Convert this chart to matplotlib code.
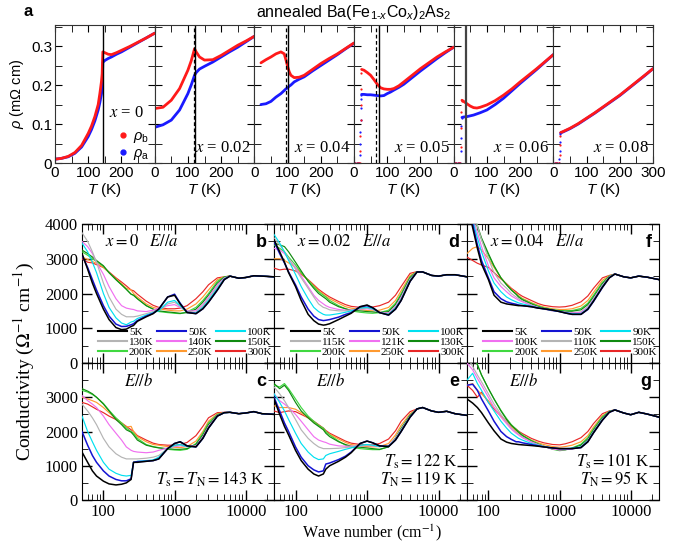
import numpy as np
import matplotlib as mpl
import matplotlib.pyplot as plt
from matplotlib.lines import Line2D
from matplotlib.font_manager import FontProperties
from matplotlib.ticker import MultipleLocator, LogLocator, NullFormatter

mpl.rcParams['font.family'] = 'Liberation Serif'
mpl.rcParams['mathtext.fontset'] = 'custom'
mpl.rcParams['mathtext.rm'] = 'Liberation Sans'
mpl.rcParams['mathtext.it'] = 'Liberation Sans:italic'
mpl.rcParams['mathtext.bf'] = 'Liberation Sans:bold'
SANS = 'Liberation Sans'

# ---------------- resistivity (top row) ----------------
dopings = ['0', '0.02', '0.04', '0.05', '0.06', '0.08']

T_00 = [2, 20, 40, 60, 80, 100, 110, 120, 130, 135, 140, 142, 143, 144, 150, 160, 170, 185, 200, 225, 250, 275, 300]
rb_00 = [0.010, 0.012, 0.017, 0.027, 0.045, 0.076, 0.095, 0.119, 0.150, 0.178, 0.210, 0.229, 0.260, 0.285,
         0.283, 0.279, 0.278, 0.283, 0.289, 0.299, 0.310, 0.321, 0.333]
ra_00 = [0.010, 0.012, 0.016, 0.025, 0.041, 0.068, 0.086, 0.108, 0.136, 0.155, 0.178, 0.200, 0.230, 0.258,
         0.263, 0.268, 0.272, 0.279, 0.285, 0.297, 0.309, 0.321, 0.333]

T_02 = [2, 25, 50, 75, 100, 110, 120, 125, 135, 150, 175, 200, 225, 250, 275, 300]
rb_02 = [0.140, 0.143, 0.161, 0.191, 0.238, 0.262, 0.293, 0.285, 0.272, 0.264, 0.265, 0.276, 0.289, 0.302, 0.313, 0.325]
ra_02 = [0.092, 0.098, 0.110, 0.136, 0.178, 0.200, 0.225, 0.232, 0.241, 0.248, 0.259, 0.272, 0.285, 0.297, 0.311, 0.325]

T_04 = [20, 35, 50, 65, 80, 90, 95, 100, 105, 110, 120, 135, 150, 175, 200, 225, 250, 275, 300]
rb_04 = [0.257, 0.265, 0.272, 0.280, 0.285, 0.280, 0.265, 0.248, 0.234, 0.225, 0.219, 0.220, 0.225, 0.240,
         0.255, 0.268, 0.280, 0.294, 0.308]
ra_04 = [0.150, 0.152, 0.158, 0.169, 0.178, 0.186, 0.190, 0.193, 0.197, 0.200, 0.208, 0.215, 0.221, 0.236,
         0.250, 0.264, 0.278, 0.293, 0.307]

T_05 = [23, 30, 40, 50, 60, 70, 80, 90, 100, 110, 120, 135, 150, 175, 200, 225, 250, 275, 300]
rb_05 = [0.240, 0.238, 0.232, 0.225, 0.214, 0.202, 0.193, 0.190, 0.189, 0.189, 0.191, 0.198, 0.208, 0.225,
         0.242, 0.257, 0.272, 0.285, 0.297]
ra_05 = [0.176, 0.176, 0.175, 0.175, 0.174, 0.173, 0.172, 0.173, 0.178, 0.182, 0.187, 0.194, 0.202, 0.219,
         0.236, 0.252, 0.268, 0.283, 0.297]

T_06 = [25, 30, 40, 50, 60, 70, 80, 100, 125, 150, 175, 200, 225, 250, 275, 300]
rb_06 = [0.161, 0.158, 0.152, 0.146, 0.142, 0.141, 0.143, 0.149, 0.160, 0.174, 0.190, 0.208, 0.225, 0.242, 0.260, 0.278]
ra_06 = [0.117, 0.118, 0.119, 0.121, 0.123, 0.126, 0.129, 0.136, 0.150, 0.166, 0.185, 0.204, 0.222, 0.240, 0.259, 0.278]

T_08 = [22, 30, 50, 75, 100, 125, 150, 175, 200, 225, 250, 275, 300]
rb_08 = [0.078, 0.081, 0.089, 0.101, 0.115, 0.129, 0.144, 0.159, 0.174, 0.191, 0.208, 0.225, 0.242]
ra_08 = [0.077, 0.080, 0.088, 0.100, 0.114, 0.128, 0.143, 0.158, 0.173, 0.190, 0.207, 0.224, 0.242]

# superconducting transition points (dots)
trT_05 = [0, 4, 8, 12, 16, 18, 19, 19.5, 20, 20.5, 21, 22]
trb_05 = [0, 0, 0, 0, 0, 0, 0.03, 0.07, 0.11, 0.15, 0.19, 0.23]
tra_05 = [0, 0, 0, 0, 0, 0.02, 0.05, 0.08, 0.11, 0.14, 0.165, 0.175]
trT_06 = [0, 4, 8, 12, 16, 20, 21, 22, 23, 24]
trb_06 = [0, 0, 0, 0, 0, 0, 0.04, 0.09, 0.13, 0.16]
tra_06 = [0, 0, 0, 0, 0, 0, 0.03, 0.065, 0.095, 0.115]
trT_08 = [0, 4, 8, 12, 16, 18, 19, 20, 21]
trb_08 = [0, 0, 0, 0, 0, 0, 0.02, 0.045, 0.07]
tra_08 = [0, 0, 0, 0, 0, 0.01, 0.03, 0.055, 0.075]

Ts_lines = [143, 122, 101, 75, 38, None]
TN_lines = [None, 119, 95, 65, None, None]

# ---------------- optical conductivity (bottom) ----------------
w_lo = [50, 60, 70, 80, 100, 120, 150, 180, 210, 245, 265, 300, 400, 500, 600, 800, 1000, 1200, 1500, 2000,
        2500, 3000, 4000, 5000]
w_hi = [6000, 8000, 10000, 13000, 17000, 25000]

temps_b = ['5K', '50K', '100K', '130K', '140K', '150K', '200K', '250K', '300K']
sig_b = [
    [3150, 2700, 2300, 2000, 1550, 1250, 1020, 960, 975, 1050, 1080, 1200, 1330, 1420, 1550, 1900, 1950, 1700, 1450, 1420, 1560, 1750, 2100, 2400],
    [3100, 2750, 2400, 2100, 1650, 1350, 1120, 1050, 1055, 1100, 1130, 1220, 1350, 1430, 1550, 1900, 1980, 1720, 1460, 1420, 1560, 1750, 2100, 2400],
    [3450, 3200, 2900, 2600, 2000, 1600, 1300, 1150, 1100, 1180, 1200, 1280, 1380, 1450, 1500, 1750, 1800, 1650, 1450, 1440, 1600, 1800, 2150, 2420],
    [3750, 3500, 3200, 2900, 2300, 1900, 1550, 1400, 1330, 1330, 1330, 1350, 1420, 1480, 1520, 1700, 1750, 1630, 1470, 1460, 1640, 1850, 2200, 2430],
    [3500, 3350, 3150, 2900, 2550, 2200, 1850, 1650, 1580, 1550, 1540, 1500, 1480, 1520, 1580, 1650, 1680, 1600, 1500, 1500, 1680, 1900, 2250, 2450],
    [3250, 3150, 3050, 2950, 2800, 2600, 2400, 2250, 2120, 1980, 1950, 1850, 1650, 1550, 1500, 1470, 1450, 1430, 1450, 1550, 1750, 1950, 2300, 2470],
    [3200, 3100, 3000, 2920, 2780, 2600, 2400, 2250, 2120, 1980, 1950, 1850, 1650, 1550, 1480, 1450, 1430, 1420, 1470, 1600, 1800, 2000, 2350, 2480],
    [3050, 2980, 2920, 2870, 2750, 2600, 2420, 2280, 2150, 2100, 2000, 1900, 1700, 1600, 1560, 1520, 1500, 1500, 1550, 1700, 1900, 2100, 2400, 2480],
    [3000, 2900, 2880, 2830, 2750, 2620, 2450, 2330, 2220, 2100, 2080, 1980, 1780, 1660, 1600, 1560, 1560, 1580, 1650, 1850, 2050, 2250, 2450, 2480],
]
tail_b = [2500, 2440, 2460, 2510, 2500, 2480]

sig_c = [
    [1400, 1100, 850, 700, 550, 470, 440, 460, 500, 600, 1100, 1100, 1130, 1150, 1200, 1500, 1650, 1700, 1580, 1550, 1800, 2100, 2450, 2550],
    [2000, 1600, 1300, 1100, 850, 700, 600, 560, 560, 620, 1100, 1120, 1130, 1150, 1200, 1500, 1650, 1700, 1580, 1550, 1800, 2100, 2450, 2550],
    [2450, 2000, 1700, 1450, 1100, 900, 780, 720, 700, 720, 1100, 1130, 1150, 1170, 1250, 1500, 1600, 1620, 1560, 1560, 1800, 2100, 2450, 2550],
    [2800, 2600, 2400, 2200, 1800, 1550, 1350, 1250, 1200, 1200, 1200, 1200, 1220, 1250, 1300, 1500, 1580, 1600, 1560, 1570, 1820, 2120, 2460, 2550],
    [3050, 2900, 2800, 2700, 2450, 2200, 1950, 1750, 1550, 1450, 1420, 1400, 1380, 1400, 1450, 1520, 1560, 1580, 1560, 1580, 1850, 2150, 2470, 2550],
    [3250, 3180, 3100, 3000, 2800, 2600, 2350, 2200, 2050, 1980, 1900, 1750, 1600, 1550, 1520, 1500, 1480, 1480, 1500, 1620, 1900, 2200, 2480, 2550],
    [3200, 3150, 3080, 3000, 2820, 2620, 2400, 2250, 2100, 2000, 1950, 1800, 1620, 1560, 1530, 1480, 1460, 1450, 1480, 1650, 1950, 2250, 2500, 2550],
    [3000, 2950, 2900, 2850, 2700, 2550, 2380, 2250, 2130, 2150, 2000, 1850, 1700, 1620, 1600, 1560, 1540, 1530, 1560, 1720, 2000, 2300, 2520, 2550],
    [2850, 2800, 2720, 2650, 2550, 2450, 2350, 2250, 2150, 2050, 2000, 1880, 1750, 1660, 1620, 1600, 1600, 1620, 1680, 1880, 2150, 2400, 2550, 2560],
]
tail_c = [2560, 2520, 2540, 2580, 2520, 2500]

temps_d = ['5K', '50K', '100K', '115K', '121K', '130K', '200K', '250K', '300K']
sig_d = [
    [3550, 3200, 2900, 2600, 2200, 1800, 1400, 1220, 1120, 1090, 1100, 1130, 1250, 1350, 1430, 1620, 1670, 1590, 1450, 1380, 1550, 1800, 2350, 2620],
    [3500, 3150, 2880, 2620, 2250, 1900, 1550, 1350, 1250, 1220, 1230, 1250, 1320, 1400, 1450, 1620, 1650, 1590, 1450, 1380, 1550, 1800, 2350, 2620],
    [3700, 3450, 3200, 2950, 2550, 2200, 1850, 1600, 1480, 1400, 1380, 1380, 1420, 1460, 1500, 1580, 1600, 1560, 1450, 1400, 1580, 1830, 2380, 2620],
    [3600, 3400, 3200, 3000, 2700, 2450, 2150, 1900, 1700, 1600, 1580, 1530, 1500, 1500, 1520, 1560, 1580, 1550, 1460, 1420, 1600, 1860, 2400, 2620],
    [3300, 3250, 3150, 3000, 2750, 2500, 2200, 1950, 1800, 1700, 1650, 1600, 1540, 1520, 1520, 1550, 1560, 1540, 1460, 1440, 1630, 1900, 2420, 2620],
    [3450, 3400, 3350, 3200, 2900, 2650, 2350, 2150, 2000, 1900, 1850, 1750, 1620, 1560, 1520, 1500, 1480, 1470, 1450, 1480, 1680, 1950, 2450, 2630],
    [3400, 3300, 3200, 3050, 2820, 2600, 2380, 2200, 2050, 1950, 1900, 1800, 1650, 1560, 1500, 1460, 1440, 1430, 1450, 1520, 1720, 2000, 2480, 2630],
    [3000, 3000, 2950, 2880, 2750, 2580, 2380, 2220, 2080, 1980, 1920, 1850, 1720, 1620, 1580, 1540, 1510, 1500, 1520, 1600, 1800, 2080, 2520, 2630],
    [2730, 2680, 2700, 2700, 2650, 2550, 2400, 2250, 2120, 2020, 1970, 1900, 1770, 1680, 1630, 1600, 1600, 1610, 1650, 1750, 1950, 2200, 2580, 2630],
]
tail_d = [2620, 2520, 2500, 2540, 2540, 2480]

sig_e = [
    [2950, 2500, 2150, 1900, 1450, 1150, 900, 760, 700, 760, 900, 1000, 1130, 1250, 1380, 1650, 1720, 1670, 1580, 1560, 1750, 2000, 2420, 2660],
    [3000, 2600, 2250, 2000, 1550, 1250, 1000, 880, 820, 850, 1050, 1080, 1180, 1280, 1400, 1650, 1720, 1670, 1580, 1560, 1750, 2000, 2420, 2660],
    [3100, 2850, 2600, 2350, 1950, 1650, 1400, 1250, 1180, 1200, 1300, 1350, 1420, 1480, 1520, 1600, 1620, 1600, 1560, 1570, 1760, 2020, 2430, 2660],
    [3300, 3100, 2900, 2700, 2350, 2050, 1800, 1650, 1550, 1500, 1500, 1500, 1510, 1530, 1550, 1580, 1600, 1590, 1560, 1580, 1780, 2040, 2440, 2660],
    [3100, 2900, 2800, 2700, 2500, 2300, 2050, 1850, 1750, 1700, 1680, 1630, 1580, 1570, 1570, 1580, 1590, 1580, 1560, 1590, 1800, 2060, 2450, 2660],
    [3400, 3250, 3350, 3200, 2850, 2600, 2400, 2250, 2150, 2050, 1950, 1850, 1700, 1620, 1570, 1540, 1520, 1500, 1480, 1550, 1800, 2080, 2470, 2660],
    [3350, 3300, 3400, 3250, 2950, 2700, 2450, 2300, 2180, 2100, 2000, 1900, 1720, 1600, 1540, 1500, 1480, 1470, 1470, 1560, 1820, 2100, 2480, 2660],
    [2750, 2700, 2700, 2700, 2650, 2550, 2400, 2280, 2180, 2080, 2000, 1920, 1780, 1680, 1620, 1580, 1560, 1550, 1560, 1650, 1900, 2180, 2520, 2660],
    [2600, 2550, 2580, 2600, 2580, 2500, 2400, 2300, 2200, 2100, 2030, 1950, 1820, 1720, 1660, 1620, 1600, 1610, 1650, 1780, 2020, 2300, 2580, 2660],
]
tail_e = [2700, 2600, 2560, 2590, 2520, 2470]

temps_f = ['5K', '50K', '90K', '100K', '110K', '150K', '200K', '250K', '300K']
sig_f = [
    [4600, 3900, 3300, 2850, 2400, 1950, 1750, 1700, 1680, 1660, 1650, 1650, 1620, 1580, 1560, 1520, 1480, 1440, 1400, 1400, 1550, 1780, 2180, 2450],
    [4700, 4000, 3400, 2950, 2450, 2050, 1850, 1760, 1720, 1690, 1670, 1650, 1620, 1580, 1560, 1520, 1480, 1440, 1400, 1400, 1540, 1770, 2170, 2450],
    [4700, 4100, 3600, 3200, 2650, 2300, 2050, 1900, 1820, 1760, 1730, 1700, 1640, 1590, 1560, 1510, 1480, 1450, 1420, 1420, 1570, 1800, 2200, 2460],
    [4800, 4200, 3750, 3350, 2800, 2450, 2200, 2050, 1930, 1850, 1810, 1760, 1660, 1600, 1560, 1500, 1480, 1460, 1440, 1450, 1600, 1830, 2220, 2470],
    [4900, 4400, 3950, 3550, 3000, 2600, 2300, 2150, 2000, 1900, 1850, 1780, 1670, 1600, 1550, 1500, 1480, 1460, 1450, 1470, 1620, 1850, 2240, 2480],
    [4900, 4400, 3950, 3600, 3150, 2800, 2450, 2250, 2100, 1980, 1900, 1820, 1700, 1620, 1570, 1520, 1500, 1490, 1490, 1530, 1680, 1900, 2280, 2490],
    [4800, 4300, 3900, 3550, 3100, 2780, 2450, 2250, 2100, 1980, 1920, 1840, 1720, 1640, 1590, 1540, 1510, 1500, 1510, 1570, 1720, 1950, 2320, 2500],
    [3150, 3300, 3350, 3250, 3000, 2750, 2450, 2270, 2120, 2000, 1940, 1860, 1740, 1660, 1610, 1560, 1540, 1540, 1560, 1640, 1800, 2030, 2380, 2510],
    [3050, 2950, 2870, 2820, 2750, 2600, 2420, 2280, 2150, 2050, 1990, 1920, 1800, 1710, 1660, 1620, 1610, 1620, 1660, 1760, 1930, 2150, 2450, 2520],
]
tail_f = [2560, 2480, 2450, 2500, 2470, 2400]

sig_g = [
    [2950, 2830, 2700, 2550, 2250, 2020, 1780, 1690, 1650, 1630, 1620, 1610, 1590, 1570, 1550, 1520, 1500, 1500, 1500, 1530, 1700, 1960, 2330, 2560],
    [3350, 3380, 3200, 2950, 2600, 2300, 2000, 1850, 1770, 1700, 1700, 1670, 1620, 1580, 1550, 1520, 1500, 1500, 1500, 1530, 1700, 1960, 2330, 2560],
    [3500, 3700, 3400, 3200, 2850, 2600, 2300, 2100, 1950, 1850, 1800, 1750, 1650, 1600, 1560, 1520, 1500, 1500, 1510, 1550, 1720, 1980, 2350, 2570],
    [4000, 3800, 3550, 3350, 3000, 2700, 2420, 2230, 2070, 1950, 1900, 1820, 1690, 1610, 1560, 1490, 1460, 1470, 1490, 1550, 1730, 1990, 2360, 2570],
    [4200, 3900, 3650, 3450, 3100, 2800, 2500, 2280, 2100, 1980, 1920, 1840, 1700, 1620, 1570, 1500, 1470, 1480, 1500, 1560, 1740, 2000, 2370, 2570],
    [4700, 4300, 3950, 3650, 3250, 2950, 2600, 2350, 2180, 2050, 1980, 1880, 1720, 1630, 1570, 1490, 1460, 1470, 1510, 1600, 1780, 2040, 2400, 2580],
    [4700, 4300, 3950, 3650, 3250, 2950, 2620, 2380, 2200, 2070, 2000, 1900, 1740, 1640, 1570, 1480, 1440, 1460, 1520, 1630, 1820, 2080, 2430, 2590],
    [3350, 3400, 3200, 3100, 2900, 2700, 2450, 2280, 2130, 2020, 1960, 1880, 1750, 1670, 1620, 1560, 1540, 1560, 1600, 1700, 1880, 2130, 2460, 2590],
    [3350, 3200, 3000, 3150, 2850, 2650, 2450, 2300, 2170, 2070, 2010, 1940, 1800, 1720, 1670, 1620, 1610, 1640, 1700, 1820, 2000, 2230, 2520, 2600],
]
tail_g = [2630, 2540, 2490, 2560, 2510, 2420]

BLACK, BLUE, CYAN, GRAY = '#000000', '#1414d2', '#00e0f0', '#b4b4b4'
VIOLET, DKGREEN, LTGREEN, ORANGE, RED = '#f070f0', '#108a10', '#40d840', '#ff9a30', '#e82828'
cols_bd = [BLACK, BLUE, CYAN, GRAY, VIOLET, DKGREEN, LTGREEN, ORANGE, RED]
cols_f = [BLACK, BLUE, CYAN, VIOLET, GRAY, DKGREEN, LTGREEN, ORANGE, RED]

W, H = 688, 545


def box(x0, y0, x1, y1):
    return [x0 / W, 1 - y1 / H, (x1 - x0) / W, (y1 - y0) / H]


fig = plt.figure(figsize=(W / 100, H / 100), dpi=100)

# ---------------- top row ----------------
xe = np.linspace(55, 653, 7)
res_T = [T_00, T_02, T_04, T_05, T_06, T_08]
res_b = [rb_00, rb_02, rb_04, rb_05, rb_06, rb_08]
res_a = [ra_00, ra_02, ra_04, ra_05, ra_06, ra_08]
tr = {3: (trT_05, trb_05, tra_05), 4: (trT_06, trb_06, tra_06), 5: (trT_08, trb_08, tra_08)}

for k in range(6):
    ax = fig.add_axes(box(xe[k], 25, xe[k + 1], 163))
    ax.plot(res_T[k], res_a[k], color='#1a1aff', lw=2.0, solid_capstyle='round')
    ax.plot(res_T[k], res_b[k], color='#ff1a1a', lw=2.0, solid_capstyle='round')
    if k in tr:
        tT, tb, ta = tr[k]
        ax.plot(tT, ta, 'o', color='#1a1aff', ms=1.6, mew=0)
        ax.plot(tT, tb, 'o', color='#ff1a1a', ms=1.6, mew=0)
    if Ts_lines[k] is not None:
        ax.axvline(Ts_lines[k], color='#444444' if k == 4 else 'k', lw=1.0 if k != 4 else 1.6)
    if TN_lines[k] is not None:
        ax.axvline(TN_lines[k], color='k', lw=0.9, ls=(0, (3, 2)))
    ax.set_xlim(0, 300)
    ax.set_ylim(0, 0.354)
    ax.xaxis.set_major_locator(MultipleLocator(100))
    ax.xaxis.set_minor_locator(MultipleLocator(50))
    ax.yaxis.set_major_locator(MultipleLocator(0.1))
    ax.yaxis.set_minor_locator(MultipleLocator(0.05))
    ax.tick_params(which='both', direction='in', top=True, right=True, labelsize=11, labelfontfamily=SANS,
                   pad=2, length=5)
    for sp in ax.spines.values():
        sp.set_color('#333333')
    if k < 5:
        ax.set_xticks([0, 100, 200], labels=['0', '100', '200'])
    else:
        ax.set_xticks([0, 100, 200, 300], labels=['0', '100', '200', '300'])
    if k == 0:
        ax.set_yticks([0, 0.1, 0.2, 0.3], labels=['0', '0.1', '0.2', '0.3'])
        ax.set_ylabel(r'$\rho$ (m$\Omega$ cm)', fontsize=10.5, family=SANS, labelpad=4)
        ax.text(0.72, 0.36, '$x$ = 0', transform=ax.transAxes, ha='center', va='center', fontsize=12,
                math_fontfamily='stix')
        hs = [Line2D([], [], marker='o', ls='none', color='#ff1a1a', ms=3.5),
              Line2D([], [], marker='o', ls='none', color='#1a1aff', ms=3.5)]
        ax.legend(hs, [r'$\rho_{\rm b}$', r'$\rho_{\rm a}$'], loc='upper left', bbox_to_anchor=(0.55, 0.3),
                  frameon=False, handlelength=0.8, handletextpad=0.3, labelspacing=0.05, borderpad=0,
                  prop=FontProperties(family=SANS, size=10.5))
    else:
        ax.set_yticklabels([])
        ax.text(0.96, 0.05, '$x$ = ' + dopings[k], transform=ax.transAxes, ha='right', va='bottom',
                fontsize=12, math_fontfamily='stix')
    ax.set_xlabel('$T$ (K)', fontsize=11, family=SANS, labelpad=1)

fig.text(28 / W, 1 - 12 / H, 'a', fontsize=12, fontweight='bold', family=SANS, ha='center', va='center')
fig.text(354 / W, 1 - 12 / H, r'annealed Ba(Fe$_{1\text{-}x}$Co$_x$)$_2$As$_2$', fontsize=11.5, family=SANS,
         ha='center', va='center')

# ---------------- bottom panels ----------------
w_all = w_lo + w_hi
panels = [
    (0, 0, sig_b, tail_b, temps_b, cols_bd, 'b', r'$x = 0\quad E//a$'),
    (0, 1, sig_c, tail_c, temps_b, cols_bd, 'c', r'$E//b$'),
    (1, 0, sig_d, tail_d, temps_d, cols_bd, 'd', r'$x = 0.02\quad E//a$'),
    (1, 1, sig_e, tail_e, temps_d, cols_bd, 'e', r'$E//b$'),
    (2, 0, sig_f, tail_f, temps_f, cols_f, 'f', r'$x = 0.04\quad E//a$'),
    (2, 1, sig_g, tail_g, temps_f, cols_f, 'g', r'$E//b$'),
]
cx = [82, 274, 467, 659]
ry = [224, 363, 500]
ts_text = {
    (0, 1): [r'$T_{\rm s} = T_{\rm N} = 143$ K'],
    (1, 1): [r'$T_{\rm s} = 122$ K', r'$T_{\rm N} = 119$ K'],
    (2, 1): [r'$T_{\rm s} = 101$ K', r'$T_{\rm N} = 95$ K'],
}

for c, r, sig, tail, temps, cols, tag, label in panels:
    ax = fig.add_axes(box(cx[c], ry[r], cx[c + 1], ry[r + 1]))
    handles = []
    for vals, T, col in zip(sig, temps, cols):
        lw = 1.1 if col in (BLACK, BLUE) else 0.85
        h, = ax.plot(w_all, vals + tail, color=col, lw=lw, label=T)
        handles.append(h)
    # low temperatures drawn on top
    for i, h in enumerate(handles):
        h.set_zorder(3 + len(handles) - i)
    ax.set_xscale('log')
    ax.set_xlim(50, 25000)
    ax.set_ylim(0, 4000)
    ax.xaxis.set_minor_locator(LogLocator(base=10, subs=np.arange(2, 10)))
    ax.xaxis.set_minor_formatter(NullFormatter())
    ax.yaxis.set_minor_locator(MultipleLocator(500))
    ax.tick_params(which='both', direction='in', top=True, right=True, labelsize=12, pad=3)
    ax.tick_params(which='major', length=7, width=1)
    ax.tick_params(which='minor', length=4)
    if r == 1:
        ax.set_xticks([100, 1000, 10000], labels=['100', '1000', '10000'])
    else:
        ax.set_xticks([100, 1000, 10000], labels=['', '', ''])
    if c == 0:
        if r == 0:
            ax.set_yticks([0, 1000, 2000, 3000, 4000], labels=['0', '1000', '2000', '3000', '4000'])
        else:
            ax.set_yticks([0, 1000, 2000, 3000, 4000], labels=['0', '1000', '2000', '3000', ''])
    else:
        ax.set_yticks([0, 1000, 2000, 3000, 4000], labels=[''] * 5)
    ax.text(0.96, 0.93, tag, transform=ax.transAxes, ha='right', va='top', fontsize=13, fontweight='bold',
            family=SANS)
    ax.text(0.22 if r == 1 else 0.12, 0.93, label, transform=ax.transAxes, ha='left', va='top', fontsize=12,
            math_fontfamily='stix')
    if r == 0:
        order = [0, 3, 6, 1, 4, 7, 2, 5, 8]
        leg = ax.legend([handles[i] for i in order], [temps[i] for i in order], ncol=3, loc='lower right',
                        bbox_to_anchor=(1.0, 0.03), frameon=False, fontsize=8, handlelength=2.6,
                        handletextpad=0.2, columnspacing=0.3, labelspacing=0.02, borderpad=0.1,
                        borderaxespad=0.1)
        for lh in leg.get_lines():
            lh.set_linewidth(1.5)
    else:
        lines = ts_text[(c, r)]
        for j, s in enumerate(lines):
            ax.text(0.95, 0.08 + 0.13 * (len(lines) - 1 - j), s, transform=ax.transAxes, ha='right',
                    va='bottom', fontsize=12, math_fontfamily='stix')

fig.text(24 / W, 1 - 362 / H, r'Conductivity ($\Omega^{-1}$ cm$^{-1}$)', rotation=90, ha='center', va='center',
         fontsize=14, math_fontfamily='stix')
fig.text(372 / W, 1 - 533 / H, r'Wave number (cm$^{-1}$)', ha='center', va='center', fontsize=11.5,
         math_fontfamily='stix')

fig.savefig('out.png', dpi=100)
